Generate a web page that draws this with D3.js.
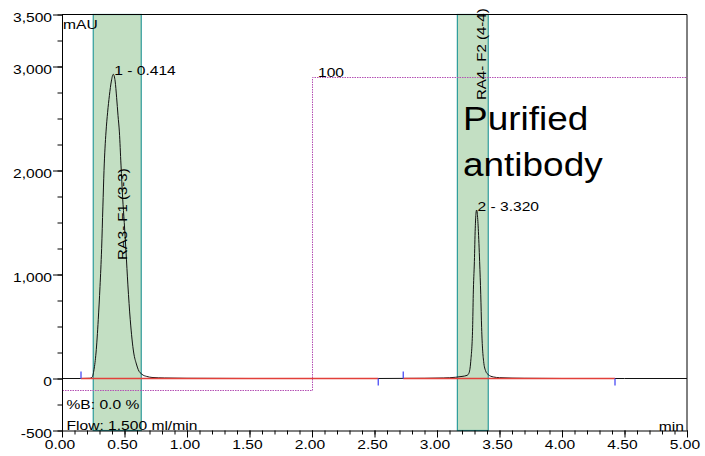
<!DOCTYPE html>
<html>
<head>
<meta charset="utf-8">
<script src="https://cdn.jsdelivr.net/npm/d3@7/dist/d3.min.js"></script>
<style>
  html, body { margin: 0; padding: 0; background: #fff; }
  svg { display: block; }
  text { font-family: "Liberation Sans", Arial, sans-serif; fill: #000; }
</style>
</head>
<body>
<svg id="chart" width="705" height="456"></svg>
<script>
// ---------- data ----------
const signalTime = [0, 0.15, 0.22, 0.24, 0.256, 0.272, 0.29, 0.304, 0.317, 0.327, 0.336, 0.352, 0.365, 0.379, 0.395, 0.410, 0.425, 0.437, 0.448, 0.459, 0.472, 0.485, 0.498, 0.512, 0.527, 0.546, 0.574, 0.595, 0.61, 0.64, 0.677, 0.72, 0.82, 1.0, 1.5, 2.0, 2.5, 2.9, 3.05, 3.15, 3.2, 3.24, 3.255, 3.27, 3.285, 3.29, 3.299, 3.306, 3.312, 3.317, 3.322, 3.33, 3.341, 3.35, 3.357, 3.373, 3.39, 3.41, 3.45, 3.5, 3.7, 4.0, 4.5, 5.0];
const signalMAU  = [0, 0, 2, 10, 85, 245, 565, 884, 1250, 1650, 2000, 2371, 2560, 2720, 2860, 2925, 2860, 2700, 2530, 2371, 2052, 1740, 1500, 1220, 900, 565, 245, 140, 85, 40, 20, 10, 5, 2, 0, 0, 0, 2, 5, 12, 20, 30, 50, 165, 488, 805, 1124, 1445, 1590, 1620, 1590, 1445, 1124, 805, 488, 165, 70, 37, 15, 8, 2, 0, 0, 0];

const gradientTime = [0, 2.0, 2.0, 5.0];
const gradientB    = [0, 0, 100, 100];

const fractionNames = ["RA3- F1 (3-3)", "RA4- F2 (4-4)"];
const fractionStart = [0.25, 3.163];
const fractionEnd   = [0.634, 3.41];

const peakLabels = ["1 - 0.414", "2 - 3.320"];
const peakTimes  = [0.414, 3.320];
const peakHeights = [2925, 1620];

const baselineStart = [0.152, 2.73];
const baselineEnd   = [2.53, 4.424];

const yMajorTicks = [-500, 0, 1000, 2000, 3000, 3500];
const yTickLabels = ["-500", "0", "1,000", "2,000", "3,000", "3,500"];
const xMajorTicks = [0, 0.5, 1, 1.5, 2, 2.5, 3, 3.5, 4, 4.5, 5];
const xTickLabels = ["0.00", "0.50", "1.00", "1.50", "2.00", "2.50", "3.00", "3.50", "4.00", "4.50", "5.00"];

// ---------- setup ----------
const svg = d3.select("#chart");
const x = d3.scaleLinear().domain([0, 5]).range([62, 687]);
const y = d3.scaleLinear().domain([-500, 3500]).range([430.5, 14.5]);
const yB = d3.scaleLinear().domain([0, 100]).range([y(-115), y(2900)]);
const SX = 1.3;

function label(str, px, py, opts = {}) {
  const size = opts.size || 12;
  const sx = opts.sx || SX;
  const rot = opts.rotate ? ` rotate(${opts.rotate})` : "";
  return svg.append("text")
    .attr("transform", `translate(${px},${py})${rot} scale(${sx},1)`)
    .attr("text-anchor", opts.anchor || "start")
    .style("font-size", size + "px")
    .text(str);
}

// fraction bands
fractionNames.forEach((n, i) => {
  svg.append("rect")
    .attr("x", x(fractionStart[i]))
    .attr("y", y(3500))
    .attr("width", x(fractionEnd[i]) - x(fractionStart[i]))
    .attr("height", y(-500) - y(3500))
    .attr("fill", "#c3dfc3")
    .attr("stroke", "#2e9c9c")
    .attr("stroke-width", 1.2);
});

// frame top/right
svg.append("line").attr("x1", x(0)).attr("x2", x(5)).attr("y1", y(3500)).attr("y2", y(3500)).attr("stroke", "#000");
svg.append("line").attr("x1", x(5)).attr("x2", x(5)).attr("y1", y(3500)).attr("y2", y(-500)).attr("stroke", "#000");

// gradient (%B) line
svg.append("path")
  .datum(gradientTime.map((t, i) => [t, gradientB[i]]))
  .attr("fill", "none")
  .attr("stroke", "#b450b4")
  .attr("stroke-width", 1)
  .attr("stroke-dasharray", "1.5,1")
  .attr("d", d3.line().x(d => Math.round(x(d[0])) + 0.5).y(d => Math.round(yB(d[1])) + 0.5));

// signal
svg.append("path")
  .datum(signalTime.map((t, i) => [t, signalMAU[i]]))
  .attr("fill", "none")
  .attr("stroke", "#111")
  .attr("stroke-width", 1)
  .attr("d", d3.line().x(d => x(d[0])).y(d => y(d[1])).curve(d3.curveMonotoneX));

// integration baselines
baselineStart.forEach((s, i) => {
  svg.append("line")
    .attr("x1", x(s)).attr("x2", x(baselineEnd[i]))
    .attr("y1", y(0)).attr("y2", y(0))
    .attr("stroke", "#e2403a").attr("stroke-width", 1.5);
  svg.append("line")
    .attr("x1", x(s)).attr("x2", x(s))
    .attr("y1", y(0)).attr("y2", y(0) - 7)
    .attr("stroke", "#4a4cf5").attr("stroke-width", 1.3);
  svg.append("line")
    .attr("x1", x(baselineEnd[i])).attr("x2", x(baselineEnd[i]))
    .attr("y1", y(0)).attr("y2", y(0) + 7)
    .attr("stroke", "#4a4cf5").attr("stroke-width", 1.3);
});

// axes
const yMinor = d3.range(-500, 3501, 250);
const xMinor = d3.range(0, 51, 1).map(d => d / 10);
svg.append("g").attr("transform", `translate(${x(0)},0)`)
  .call(d3.axisLeft(y).tickValues(yMinor).tickSize(4.5).tickFormat(""))
  .call(g => g.select(".domain").remove());
svg.append("g").attr("transform", `translate(${x(0)},0)`)
  .call(d3.axisLeft(y).tickValues(yMajorTicks).tickSize(9).tickSizeOuter(0).tickFormat(""));
svg.append("g").attr("transform", `translate(0,${y(-500)})`)
  .call(d3.axisBottom(x).tickValues(xMinor).tickSize(4).tickFormat(""))
  .call(g => g.select(".domain").remove());
svg.append("g").attr("transform", `translate(0,${y(-500)})`)
  .call(d3.axisBottom(x).tickValues(xMajorTicks).tickSize(7).tickSizeOuter(0).tickFormat(""));
svg.selectAll(".tick line, .domain").attr("stroke", "#000");

yMajorTicks.forEach((v, i) => label(yTickLabels[i], 52, y(v) + 7, { anchor: "end" }));
xMajorTicks.forEach((v, i) => label(xTickLabels[i], x(v) - 2, 449, { anchor: "middle" }));

// text annotations
label("mAU", 63, 28.5);
label("min", 684, 431, { anchor: "end" });
label("%B: 0.0 %", 66.5, 409);
label("Flow: 1.500 ml/min", 66.5, 430);
label("100", 318, 77);

peakLabels.forEach((p, i) => label(p, x(peakTimes[i]) + 0.5, y(peakHeights[i]) + 0.5));

const fracLabelX = [126.5, 486];
const fracLabelY = [260, 100];
fractionNames.forEach((n, i) => label(n, fracLabelX[i], fracLabelY[i], { rotate: -90, sx: 1.25 }));

label("Purified", 463, 130, { size: 33, sx: 1.12 });
label("antibody", 463, 175.5, { size: 33, sx: 1.12 });
</script>
</body>
</html>
